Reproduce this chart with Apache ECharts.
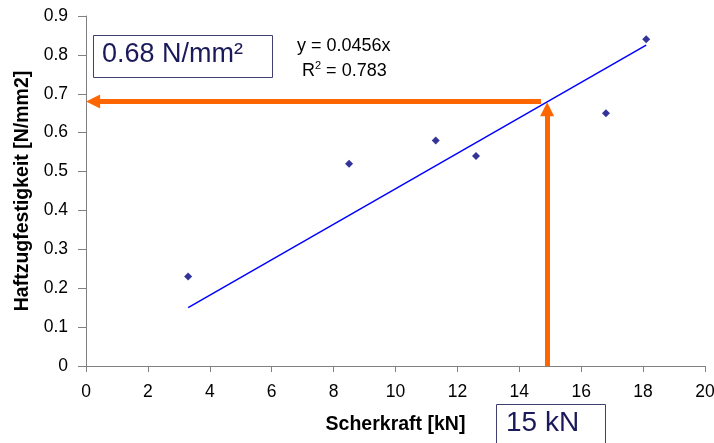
<!DOCTYPE html>
<html><head><meta charset="utf-8">
<script src="https://cdn.jsdelivr.net/npm/echarts@6/dist/echarts.min.js"></script>
<style>html,body{margin:0;padding:0;background:#fff}#c{width:714px;height:443px}</style>
</head><body><div id="c"></div>
<script>
const scherkraft = [3.3, 8.5, 11.3, 12.6, 16.8, 18.1];
const haftzug = [0.23, 0.52, 0.58, 0.54, 0.65, 0.84];
const trendX = [3.3, 18.1];
const trendY = [0.15, 0.825];
const readX = 14.9;
const readY = 0.68;
const xTitle = 'Scherkraft [kN]';
const yTitle = 'Haftzugfestigkeit [N/mm2]';
const eqText = 'y = 0.0456x';
const r2Text = '0.783';
const yBoxText = '0.68 N/mm²';
const xBoxText = '15 kN';

const font = 'Arial, "Liberation Sans", sans-serif';
const chart = echarts.init(document.getElementById('c'), null, {renderer: 'canvas'});
const orange = '#FF6600';
chart.setOption({
  animation: false,
  backgroundColor: '#fff',
  grid: {left: 86, right: 9, top: 16, bottom: 77, containLabel: false, outerBoundsMode: 'none'},
  xAxis: {
    type: 'value', min: 0, max: 20, interval: 2,
    name: xTitle, nameLocation: 'middle', nameGap: 49,
    nameTextStyle: {fontFamily: font, fontWeight: 'bold', fontSize: 19.5, color: '#000'},
    axisLine: {onZero: false, lineStyle: {color: '#808080', width: 1}},
    axisTick: {show: true, length: 6, lineStyle: {color: '#808080'}},
    axisLabel: {fontFamily: font, fontSize: 17.5, color: '#000', margin: 17},
    splitLine: {show: false}
  },
  yAxis: {
    type: 'value', min: 0, max: 0.9, interval: 0.1,
    name: yTitle, nameLocation: 'middle', nameGap: 53, nameRotate: 90,
    nameTextStyle: {fontFamily: font, fontWeight: 'bold', fontSize: 19.5, color: '#000'},
    axisLine: {show: true, lineStyle: {color: '#808080', width: 1}},
    axisTick: {show: true, length: 8, lineStyle: {color: '#808080'}},
    axisLabel: {fontFamily: font, fontSize: 17.5, color: '#000', margin: 18,
      formatter: v => (Math.round(v * 10) / 10).toString()},
    splitLine: {show: false}
  },
  series: [
    {
      type: 'line', data: trendX.map((x, i) => [x, trendY[i]]),
      symbol: 'none', lineStyle: {color: '#0000FF', width: 1.5}, z: 3,
      markLine: {
        silent: true, symbol: ['none', 'triangle'], symbolSize: [14, 14],
        label: {show: false},
        lineStyle: {color: orange, width: 5, type: 'solid'},
        data: [
          [{coord: [14.7, readY]}, {coord: [0.23, readY]}],
          [{coord: [readX, 0]}, {coord: [readX, 0.66]}]
        ]
      }
    },
    {
      type: 'scatter', data: scherkraft.map((x, i) => [x, haftzug[i]]),
      symbol: 'diamond', symbolSize: 8, itemStyle: {color: '#000080'}, z: 5
    }
  ],
  graphic: [
    {type: 'rect', shape: {x: 93.5, y: 35.5, width: 179, height: 42},
      style: {fill: '#fff', stroke: '#404070', lineWidth: 1}, z: 10},
    {type: 'text', left: 102, top: 41, z: 11,
      style: {text: yBoxText, fontFamily: font, fontSize: 27, fill: '#1a1a5a'}},
    {type: 'rect', shape: {x: 496.5, y: 404.5, width: 109, height: 50},
      style: {fill: '#fff', stroke: '#404070', lineWidth: 1}, z: 10},
    {type: 'text', left: 506, top: 409, z: 11,
      style: {text: xBoxText, fontFamily: font, fontSize: 28, fill: '#1a1a5a'}},
    {type: 'text', left: 297, top: 37, z: 11,
      style: {text: eqText, fontFamily: font, fontSize: 18, fill: '#000'}},
    {type: 'text', left: 302, top: 60, z: 11,
      style: {text: '{a|R}{s|2}{a| = ' + r2Text + '}', fontFamily: font, fontSize: 18, fill: '#000',
        rich: {a: {fontFamily: font, fontSize: 18, color: '#000', verticalAlign: 'bottom'},
               s: {fontFamily: font, fontSize: 11, color: '#000', verticalAlign: 'top', padding: [0, 0, 9, 0]}}}}
  ]
});
</script></body></html>
